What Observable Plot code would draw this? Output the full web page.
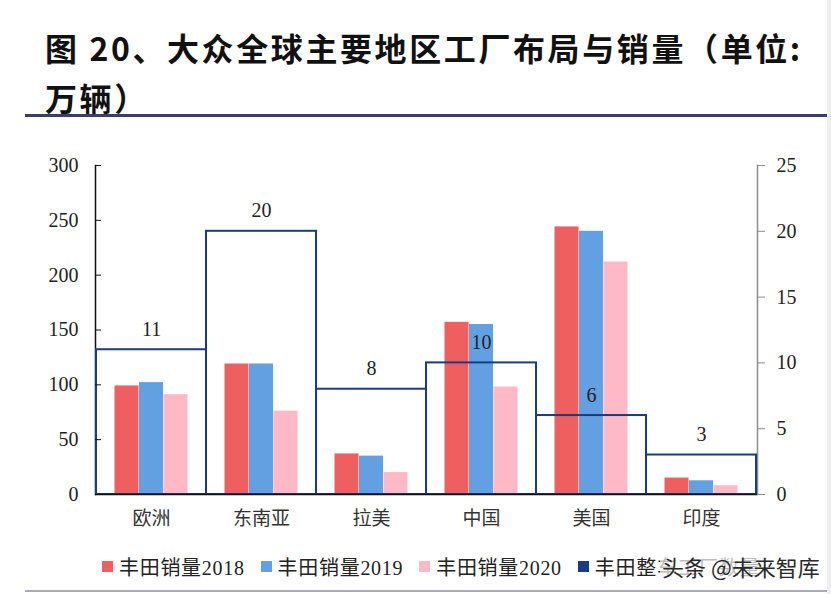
<!DOCTYPE html>
<html><head><meta charset="utf-8">
<script src="https://cdn.jsdelivr.net/npm/d3@7"></script>
<script src="https://cdn.jsdelivr.net/npm/@observablehq/plot@0.6"></script>
<style>
body{margin:0;background:#fff;width:831px;height:594px;position:relative;overflow:hidden;font-family:"Liberation Serif","Noto Sans CJK SC",serif;}
#title{position:absolute;left:45px;top:22px;font-family:"Noto Sans CJK SC";font-weight:700;font-size:32px;line-height:50px;color:#111;letter-spacing:2.6px;white-space:nowrap}
#rule{position:absolute;left:25px;top:114px;width:806px;height:3px;background:#3c3c70}
#chart{position:absolute;left:0;top:120px}
#legend{position:absolute;left:102px;top:552px;display:flex;align-items:center;font-size:20px;color:#222;white-space:nowrap;letter-spacing:0.7px}
.item{display:flex;align-items:center;margin-right:16px}
.sw{width:11px;height:11px;margin-right:6px}
#wm{position:absolute;left:660px;top:550px;font-family:"Noto Sans CJK SC";font-size:22px;color:#2a2a2a;background:rgba(255,255,255,0.7);padding:0 2px}
#bottom{position:absolute;left:25px;top:590px;width:806px;height:2px;background:#a8a8b8}
#edge{position:absolute;left:827px;top:0;width:4px;height:594px;background:#efefef}
</style></head>
<body>
<div id="title">图 20、大众全球主要地区工厂布局与销量（单位:<br>万辆）</div>
<div id="rule"></div>
<div id="chart"></div>
<div id="legend"></div>
<div id="wm">头条 @未来智库</div>
<div id="bottom"></div>
<div id="edge"></div>
<script>
const regions = ["欧洲","东南亚","拉美","中国","美国","印度"];
const sales2018 = [99,119,37,157,244,15];
const sales2019 = [102,119,35,155,240,12.5];
const sales2020 = [91,76,20,98,212,8];
const factories = [11,20,8,10,6,3];
const leftTicks = [0,50,100,150,200,250,300];
const rightTicks = [0,5,10,15,20,25];
const seriesNames = ["丰田销量2018","丰田销量2019","丰田销量2020","丰田整车工厂数量"];
const colors = ["#EF5F5F","#62A0E2","#FFB9C6","#1B3C80"];
const ratio = 300/25;

const salesSeries = [sales2018, sales2019, sales2020];
const offsets = [-24.5, 0, 24.5];

const chart = Plot.plot({
  width: 831, height: 420,
  marginLeft: 95, marginRight: 74, marginTop: 45, marginBottom: 46,
  style: {fontFamily: "'Liberation Serif','Noto Sans CJK SC',serif", fontSize: "20px", color: "#222", background: "white"},
  x: {type: "band", domain: regions, padding: 0},
  y: {domain: [0, 300]},
  marks: [
    ...salesSeries.map((s, k) => Plot.barY(regions, {
      x: d => d, y: (d, i) => s[i], fill: colors[k],
      insetLeft: 43, insetRight: 43, dx: offsets[k]
    })),
    Plot.frame({anchor: "left", stroke: "#111", strokeWidth: 1.5}),
    Plot.frame({anchor: "right", stroke: "#8c8c8c", strokeWidth: 1.5}),
    Plot.barY(regions, {x: d => d, y: (d, i) => factories[i] * ratio, fill: "none", stroke: colors[3], strokeWidth: 2}),
    Plot.ruleY([0], {stroke: "#111", strokeWidth: 1.5}),
    Plot.text(regions, {x: d => d, y: (d, i) => factories[i] * ratio, text: (d, i) => String(factories[i]), dy: -14, lineAnchor: "bottom", fontSize: 20, fill: "#222"}),
    Plot.axisY(leftTicks, {anchor: "left", tickSize: -6, tickPadding: 23, fontSize: 20, stroke: "#111", label: null}),
    Plot.axisY(rightTicks.map(d => d * ratio), {anchor: "right", tickSize: 7, tickPadding: 12, tickFormat: d => String(d / ratio), fontSize: 20, stroke: "#8c8c8c", label: null}),
    Plot.axisX({tickSize: 0, tickPadding: 17, fontSize: 19, fontFamily: "'Noto Sans CJK SC'", fill: "#333", label: null})
  ]
});
document.getElementById("chart").appendChild(chart);

const legend = document.getElementById("legend");
seriesNames.forEach((n, k) => {
  const it = document.createElement("div"); it.className = "item";
  const sw = document.createElement("div"); sw.className = "sw"; sw.style.background = colors[k];
  const t = document.createElement("span"); t.textContent = n;
  it.appendChild(sw); it.appendChild(t); legend.appendChild(it);
});
</script>
</body></html>
